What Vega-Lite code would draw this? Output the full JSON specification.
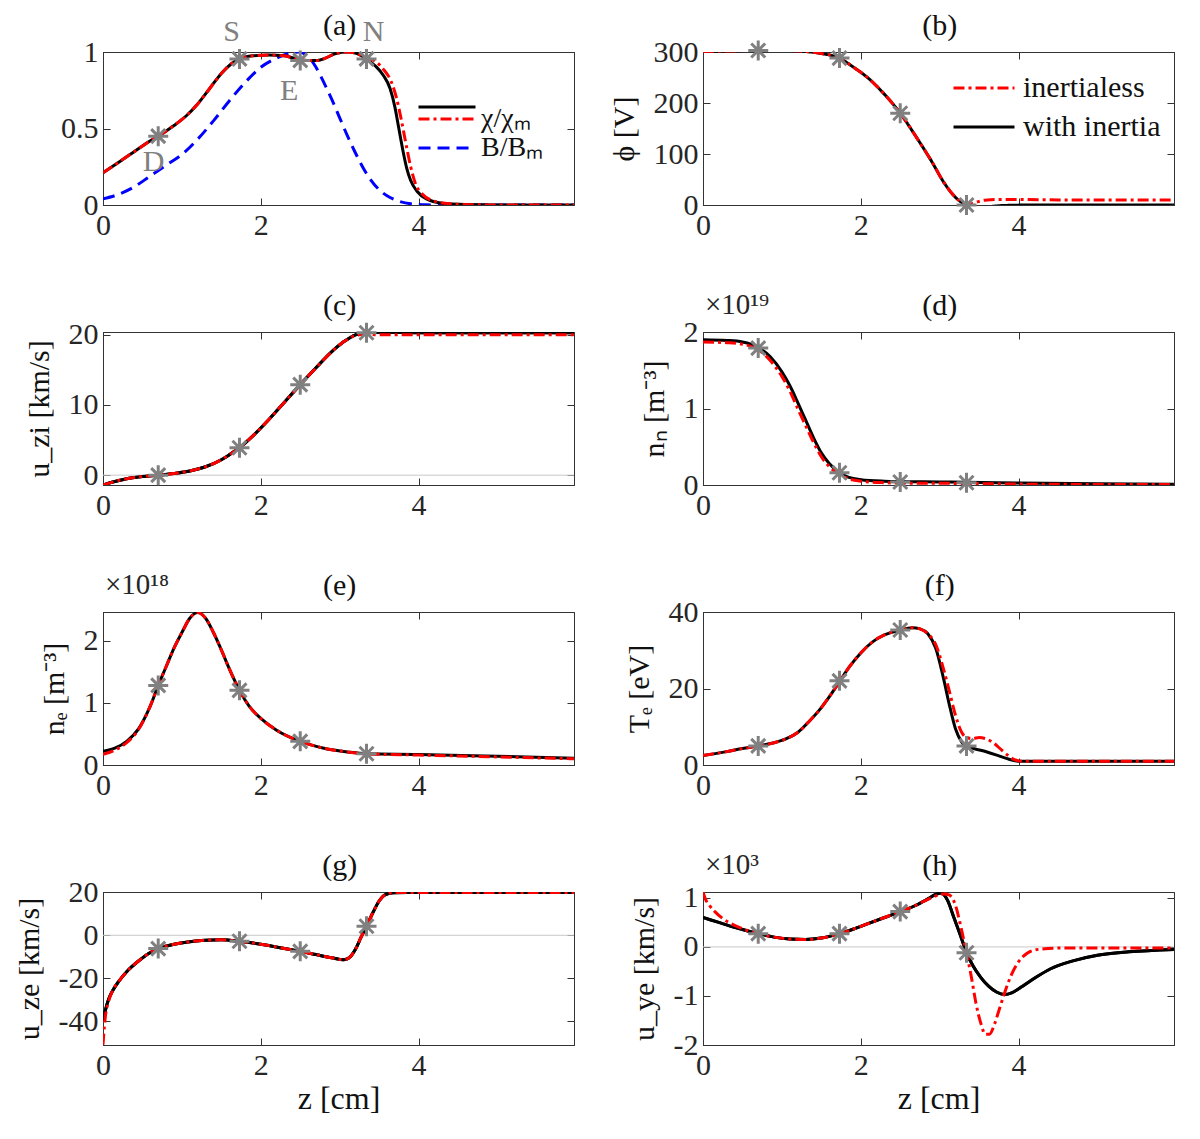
{
  "$schema": "https://vega.github.io/schema/vega-lite/v6.json",
  "background": "white",
  "padding": {"left": 13, "top": 10, "right": 5, "bottom": 5},
  "columns": 2,
  "spacing": {"row": 49, "column": 33},
  "resolve": {"scale": {"color": "independent", "strokeDash": "independent", "stroke": "independent"}},
  "datasets": {
    "a": [
      {"z":0,"v":0.21,"s":"k"},{"z":0.2,"v":0.28,"s":"k"},{"z":0.4,"v":0.35,"s":"k"},{"z":0.6,"v":0.42,"s":"k"},{"z":0.7,"v":0.45,"s":"k"},{"z":0.9,"v":0.52,"s":"k"},{"z":1.05,"v":0.58,"s":"k"},{"z":1.2,"v":0.66,"s":"k"},{"z":1.35,"v":0.76,"s":"k"},{"z":1.5,"v":0.86,"s":"k"},{"z":1.62,"v":0.92,"s":"k"},{"z":1.73,"v":0.955,"s":"k"},{"z":1.9,"v":0.975,"s":"k"},{"z":2.1,"v":0.98,"s":"k"},{"z":2.3,"v":0.975,"s":"k"},{"z":2.45,"v":0.955,"s":"k"},{"z":2.6,"v":0.945,"s":"k"},{"z":2.72,"v":0.945,"s":"k"},{"z":2.82,"v":0.96,"s":"k"},{"z":2.95,"v":0.99,"s":"k"},{"z":3.1,"v":1.0,"s":"k"},{"z":3.22,"v":0.99,"s":"k"},{"z":3.34,"v":0.955,"s":"k"},{"z":3.45,"v":0.91,"s":"k"},{"z":3.55,"v":0.85,"s":"k"},{"z":3.64,"v":0.76,"s":"k"},{"z":3.7,"v":0.64,"s":"k"},{"z":3.75,"v":0.5,"s":"k"},{"z":3.8,"v":0.36,"s":"k"},{"z":3.85,"v":0.24,"s":"k"},{"z":3.9,"v":0.16,"s":"k"},{"z":3.98,"v":0.09,"s":"k"},{"z":4.1,"v":0.04,"s":"k"},{"z":4.3,"v":0.012,"s":"k"},{"z":4.6,"v":0.003,"s":"k"},{"z":5.0,"v":0,"s":"k"},{"z":5.97,"v":0,"s":"k"},
      {"z":0,"v":0.21,"s":"r"},{"z":0.2,"v":0.28,"s":"r"},{"z":0.4,"v":0.35,"s":"r"},{"z":0.6,"v":0.42,"s":"r"},{"z":0.7,"v":0.45,"s":"r"},{"z":0.9,"v":0.52,"s":"r"},{"z":1.05,"v":0.58,"s":"r"},{"z":1.2,"v":0.66,"s":"r"},{"z":1.35,"v":0.76,"s":"r"},{"z":1.5,"v":0.86,"s":"r"},{"z":1.62,"v":0.92,"s":"r"},{"z":1.73,"v":0.955,"s":"r"},{"z":1.9,"v":0.975,"s":"r"},{"z":2.1,"v":0.98,"s":"r"},{"z":2.3,"v":0.975,"s":"r"},{"z":2.45,"v":0.955,"s":"r"},{"z":2.6,"v":0.945,"s":"r"},{"z":2.72,"v":0.945,"s":"r"},{"z":2.82,"v":0.96,"s":"r"},{"z":2.95,"v":0.99,"s":"r"},{"z":3.1,"v":1.0,"s":"r"},{"z":3.22,"v":0.99,"s":"r"},{"z":3.34,"v":0.96,"s":"r"},{"z":3.45,"v":0.94,"s":"r"},{"z":3.55,"v":0.89,"s":"r"},{"z":3.65,"v":0.81,"s":"r"},{"z":3.72,"v":0.7,"s":"r"},{"z":3.78,"v":0.56,"s":"r"},{"z":3.84,"v":0.4,"s":"r"},{"z":3.9,"v":0.25,"s":"r"},{"z":3.96,"v":0.14,"s":"r"},{"z":4.05,"v":0.07,"s":"r"},{"z":4.2,"v":0.025,"s":"r"},{"z":4.4,"v":0.008,"s":"r"},{"z":4.7,"v":0.002,"s":"r"},{"z":5.0,"v":0,"s":"r"},{"z":5.97,"v":0,"s":"r"},
      {"z":0,"v":0.04,"s":"B"},{"z":0.2,"v":0.07,"s":"B"},{"z":0.4,"v":0.12,"s":"B"},{"z":0.6,"v":0.19,"s":"B"},{"z":0.8,"v":0.26,"s":"B"},{"z":1.0,"v":0.33,"s":"B"},{"z":1.2,"v":0.43,"s":"B"},{"z":1.4,"v":0.55,"s":"B"},{"z":1.6,"v":0.68,"s":"B"},{"z":1.8,"v":0.8,"s":"B"},{"z":2.0,"v":0.9,"s":"B"},{"z":2.2,"v":0.96,"s":"B"},{"z":2.35,"v":0.99,"s":"B"},{"z":2.48,"v":1.0,"s":"B"},{"z":2.6,"v":0.97,"s":"B"},{"z":2.7,"v":0.9,"s":"B"},{"z":2.8,"v":0.8,"s":"B"},{"z":2.9,"v":0.69,"s":"B"},{"z":3.0,"v":0.57,"s":"B"},{"z":3.1,"v":0.45,"s":"B"},{"z":3.2,"v":0.34,"s":"B"},{"z":3.3,"v":0.24,"s":"B"},{"z":3.4,"v":0.16,"s":"B"},{"z":3.5,"v":0.1,"s":"B"},{"z":3.6,"v":0.06,"s":"B"},{"z":3.75,"v":0.025,"s":"B"},{"z":3.9,"v":0.008,"s":"B"},{"z":4.1,"v":0.001,"s":"B"},{"z":4.5,"v":0,"s":"B"},{"z":5.97,"v":0,"s":"B"}
    ],
    "b": [
      {"z":0,"v":301,"s":"k"},{"z":0.3,"v":302,"s":"k"},{"z":0.7,"v":303,"s":"k"},{"z":1.0,"v":303,"s":"k"},{"z":1.3,"v":301,"s":"k"},{"z":1.5,"v":297,"s":"k"},{"z":1.73,"v":288,"s":"k"},{"z":1.9,"v":271,"s":"k"},{"z":2.1,"v":248,"s":"k"},{"z":2.3,"v":217,"s":"k"},{"z":2.5,"v":180,"s":"k"},{"z":2.7,"v":134,"s":"k"},{"z":2.9,"v":85,"s":"k"},{"z":3.05,"v":45,"s":"k"},{"z":3.2,"v":15,"s":"k"},{"z":3.3,"v":3,"s":"k"},{"z":3.34,"v":0,"s":"k"},{"z":3.45,"v":-3,"s":"k"},{"z":3.6,"v":-3,"s":"k"},{"z":3.8,"v":-1,"s":"k"},{"z":4.2,"v":0,"s":"k"},{"z":5.97,"v":0,"s":"k"},
      {"z":0,"v":301,"s":"r"},{"z":0.3,"v":302,"s":"r"},{"z":0.7,"v":303,"s":"r"},{"z":1.0,"v":303,"s":"r"},{"z":1.3,"v":301,"s":"r"},{"z":1.5,"v":297,"s":"r"},{"z":1.73,"v":288,"s":"r"},{"z":1.9,"v":271,"s":"r"},{"z":2.1,"v":248,"s":"r"},{"z":2.3,"v":217,"s":"r"},{"z":2.5,"v":180,"s":"r"},{"z":2.7,"v":134,"s":"r"},{"z":2.9,"v":85,"s":"r"},{"z":3.05,"v":45,"s":"r"},{"z":3.2,"v":15,"s":"r"},{"z":3.3,"v":3,"s":"r"},{"z":3.34,"v":0,"s":"r"},{"z":3.45,"v":5,"s":"r"},{"z":3.6,"v":10,"s":"r"},{"z":3.8,"v":11,"s":"r"},{"z":4.5,"v":10,"s":"r"},{"z":5.97,"v":10,"s":"r"}
    ],
    "c": [
      {"z":0,"v":-1.4,"s":"k"},{"z":0.15,"v":-0.9,"s":"k"},{"z":0.3,"v":-0.5,"s":"k"},{"z":0.5,"v":-0.2,"s":"k"},{"z":0.7,"v":0,"s":"k"},{"z":0.9,"v":0.25,"s":"k"},{"z":1.1,"v":0.6,"s":"k"},{"z":1.3,"v":1.2,"s":"k"},{"z":1.5,"v":2.2,"s":"k"},{"z":1.6,"v":2.9,"s":"k"},{"z":1.73,"v":3.9,"s":"k"},{"z":1.9,"v":5.6,"s":"k"},{"z":2.1,"v":7.9,"s":"k"},{"z":2.3,"v":10.4,"s":"k"},{"z":2.5,"v":12.9,"s":"k"},{"z":2.7,"v":15.3,"s":"k"},{"z":2.9,"v":17.6,"s":"k"},{"z":3.05,"v":19.0,"s":"k"},{"z":3.2,"v":20.0,"s":"k"},{"z":3.34,"v":20.3,"s":"k"},{"z":3.5,"v":20.35,"s":"k"},{"z":4,"v":20.3,"s":"k"},{"z":5.97,"v":20.3,"s":"k"},
      {"z":0,"v":-1.4,"s":"r"},{"z":0.15,"v":-0.9,"s":"r"},{"z":0.3,"v":-0.5,"s":"r"},{"z":0.5,"v":-0.2,"s":"r"},{"z":0.7,"v":0,"s":"r"},{"z":0.9,"v":0.25,"s":"r"},{"z":1.1,"v":0.6,"s":"r"},{"z":1.3,"v":1.2,"s":"r"},{"z":1.5,"v":2.2,"s":"r"},{"z":1.6,"v":2.9,"s":"r"},{"z":1.73,"v":3.9,"s":"r"},{"z":1.9,"v":5.6,"s":"r"},{"z":2.1,"v":7.9,"s":"r"},{"z":2.3,"v":10.4,"s":"r"},{"z":2.5,"v":12.9,"s":"r"},{"z":2.7,"v":15.3,"s":"r"},{"z":2.9,"v":17.6,"s":"r"},{"z":3.05,"v":19.0,"s":"r"},{"z":3.2,"v":19.9,"s":"r"},{"z":3.34,"v":20.1,"s":"r"},{"z":3.5,"v":20.0,"s":"r"},{"z":5.97,"v":20.0,"s":"r"}
    ],
    "d": [
      {"z":0,"v":1.9,"s":"k"},{"z":0.3,"v":1.89,"s":"k"},{"z":0.5,"v":1.87,"s":"k"},{"z":0.7,"v":1.8,"s":"k"},{"z":0.85,"v":1.68,"s":"k"},{"z":1.0,"v":1.48,"s":"k"},{"z":1.1,"v":1.3,"s":"k"},{"z":1.2,"v":1.08,"s":"k"},{"z":1.3,"v":0.85,"s":"k"},{"z":1.4,"v":0.62,"s":"k"},{"z":1.5,"v":0.42,"s":"k"},{"z":1.6,"v":0.28,"s":"k"},{"z":1.73,"v":0.16,"s":"k"},{"z":1.85,"v":0.1,"s":"k"},{"z":2.0,"v":0.07,"s":"k"},{"z":2.3,"v":0.05,"s":"k"},{"z":2.5,"v":0.045,"s":"k"},{"z":3.0,"v":0.04,"s":"k"},{"z":3.34,"v":0.035,"s":"k"},{"z":4,"v":0.025,"s":"k"},{"z":5,"v":0.015,"s":"k"},{"z":5.97,"v":0.01,"s":"k"},
      {"z":0,"v":1.87,"s":"r"},{"z":0.3,"v":1.86,"s":"r"},{"z":0.5,"v":1.84,"s":"r"},{"z":0.7,"v":1.77,"s":"r"},{"z":0.85,"v":1.63,"s":"r"},{"z":1.0,"v":1.42,"s":"r"},{"z":1.1,"v":1.23,"s":"r"},{"z":1.2,"v":1.0,"s":"r"},{"z":1.3,"v":0.78,"s":"r"},{"z":1.4,"v":0.56,"s":"r"},{"z":1.5,"v":0.37,"s":"r"},{"z":1.6,"v":0.24,"s":"r"},{"z":1.73,"v":0.14,"s":"r"},{"z":1.85,"v":0.08,"s":"r"},{"z":2.0,"v":0.05,"s":"r"},{"z":2.3,"v":0.03,"s":"r"},{"z":2.5,"v":0.025,"s":"r"},{"z":3.34,"v":0.02,"s":"r"},{"z":4,"v":0.012,"s":"r"},{"z":5.97,"v":0.005,"s":"r"}
    ],
    "e": [
      {"z":0,"v":0.22,"s":"k"},{"z":0.15,"v":0.27,"s":"k"},{"z":0.3,"v":0.38,"s":"k"},{"z":0.45,"v":0.58,"s":"k"},{"z":0.6,"v":0.95,"s":"k"},{"z":0.7,"v":1.28,"s":"k"},{"z":0.8,"v":1.58,"s":"k"},{"z":0.9,"v":1.88,"s":"k"},{"z":1.0,"v":2.13,"s":"k"},{"z":1.1,"v":2.36,"s":"k"},{"z":1.2,"v":2.45,"s":"k"},{"z":1.3,"v":2.36,"s":"k"},{"z":1.4,"v":2.13,"s":"k"},{"z":1.5,"v":1.85,"s":"k"},{"z":1.6,"v":1.55,"s":"k"},{"z":1.73,"v":1.2,"s":"k"},{"z":1.85,"v":0.95,"s":"k"},{"z":2.0,"v":0.75,"s":"k"},{"z":2.2,"v":0.56,"s":"k"},{"z":2.5,"v":0.38,"s":"k"},{"z":2.8,"v":0.27,"s":"k"},{"z":3.1,"v":0.21,"s":"k"},{"z":3.34,"v":0.18,"s":"k"},{"z":4,"v":0.17,"s":"k"},{"z":5,"v":0.14,"s":"k"},{"z":5.97,"v":0.11,"s":"k"},
      {"z":0,"v":0.17,"s":"r"},{"z":0.15,"v":0.24,"s":"r"},{"z":0.3,"v":0.36,"s":"r"},{"z":0.45,"v":0.57,"s":"r"},{"z":0.6,"v":0.95,"s":"r"},{"z":0.7,"v":1.28,"s":"r"},{"z":0.8,"v":1.58,"s":"r"},{"z":0.9,"v":1.88,"s":"r"},{"z":1.0,"v":2.13,"s":"r"},{"z":1.1,"v":2.36,"s":"r"},{"z":1.2,"v":2.45,"s":"r"},{"z":1.3,"v":2.36,"s":"r"},{"z":1.4,"v":2.13,"s":"r"},{"z":1.5,"v":1.85,"s":"r"},{"z":1.6,"v":1.55,"s":"r"},{"z":1.73,"v":1.2,"s":"r"},{"z":1.85,"v":0.95,"s":"r"},{"z":2.0,"v":0.75,"s":"r"},{"z":2.2,"v":0.56,"s":"r"},{"z":2.5,"v":0.38,"s":"r"},{"z":2.8,"v":0.27,"s":"r"},{"z":3.1,"v":0.21,"s":"r"},{"z":3.34,"v":0.18,"s":"r"},{"z":4,"v":0.16,"s":"r"},{"z":5,"v":0.13,"s":"r"},{"z":5.97,"v":0.1,"s":"r"}
    ],
    "f": [
      {"z":0,"v":2.5,"s":"k"},{"z":0.3,"v":3.5,"s":"k"},{"z":0.5,"v":4.3,"s":"k"},{"z":0.7,"v":5.0,"s":"k"},{"z":0.9,"v":5.8,"s":"k"},{"z":1.05,"v":6.8,"s":"k"},{"z":1.2,"v":8.5,"s":"k"},{"z":1.35,"v":11.5,"s":"k"},{"z":1.5,"v":15,"s":"k"},{"z":1.6,"v":17.8,"s":"k"},{"z":1.73,"v":21.8,"s":"k"},{"z":1.85,"v":25.5,"s":"k"},{"z":2.0,"v":29.3,"s":"k"},{"z":2.15,"v":32.2,"s":"k"},{"z":2.3,"v":34,"s":"k"},{"z":2.5,"v":35.3,"s":"k"},{"z":2.65,"v":35.9,"s":"k"},{"z":2.75,"v":35.6,"s":"k"},{"z":2.85,"v":34.3,"s":"k"},{"z":2.95,"v":30.5,"s":"k"},{"z":3.05,"v":22.5,"s":"k"},{"z":3.12,"v":16,"s":"k"},{"z":3.2,"v":9.5,"s":"k"},{"z":3.28,"v":6,"s":"k"},{"z":3.34,"v":4.8,"s":"k"},{"z":3.45,"v":4.2,"s":"k"},{"z":3.6,"v":3.4,"s":"k"},{"z":3.75,"v":2.4,"s":"k"},{"z":3.88,"v":1.5,"s":"k"},{"z":4.0,"v":1.0,"s":"k"},{"z":4.5,"v":1.0,"s":"k"},{"z":5.97,"v":1.0,"s":"k"},
      {"z":0,"v":2.5,"s":"r"},{"z":0.3,"v":3.5,"s":"r"},{"z":0.5,"v":4.3,"s":"r"},{"z":0.7,"v":5.0,"s":"r"},{"z":0.9,"v":5.8,"s":"r"},{"z":1.05,"v":6.8,"s":"r"},{"z":1.2,"v":8.5,"s":"r"},{"z":1.35,"v":11.5,"s":"r"},{"z":1.5,"v":15,"s":"r"},{"z":1.6,"v":17.8,"s":"r"},{"z":1.73,"v":21.8,"s":"r"},{"z":1.85,"v":25.5,"s":"r"},{"z":2.0,"v":29.3,"s":"r"},{"z":2.15,"v":32.2,"s":"r"},{"z":2.3,"v":34,"s":"r"},{"z":2.5,"v":35.3,"s":"r"},{"z":2.65,"v":35.9,"s":"r"},{"z":2.75,"v":35.6,"s":"r"},{"z":2.85,"v":34.3,"s":"r"},{"z":2.95,"v":31.5,"s":"r"},{"z":3.05,"v":25,"s":"r"},{"z":3.12,"v":19.5,"s":"r"},{"z":3.2,"v":13,"s":"r"},{"z":3.28,"v":8.5,"s":"r"},{"z":3.34,"v":7.2,"s":"r"},{"z":3.42,"v":6.9,"s":"r"},{"z":3.5,"v":7.2,"s":"r"},{"z":3.58,"v":6.9,"s":"r"},{"z":3.68,"v":5.8,"s":"r"},{"z":3.78,"v":4.0,"s":"r"},{"z":3.88,"v":2.3,"s":"r"},{"z":3.96,"v":1.3,"s":"r"},{"z":4.05,"v":1.0,"s":"r"},{"z":5.97,"v":1.0,"s":"r"}
    ],
    "g": [
      {"z":0,"v":-40,"s":"k"},{"z":0.03,"v":-35,"s":"k"},{"z":0.07,"v":-30,"s":"k"},{"z":0.12,"v":-26,"s":"k"},{"z":0.2,"v":-21.5,"s":"k"},{"z":0.3,"v":-17,"s":"k"},{"z":0.45,"v":-12,"s":"k"},{"z":0.6,"v":-8,"s":"k"},{"z":0.7,"v":-6.2,"s":"k"},{"z":0.9,"v":-4.2,"s":"k"},{"z":1.1,"v":-3.0,"s":"k"},{"z":1.3,"v":-2.3,"s":"k"},{"z":1.5,"v":-2.1,"s":"k"},{"z":1.73,"v":-2.8,"s":"k"},{"z":1.9,"v":-3.6,"s":"k"},{"z":2.1,"v":-4.8,"s":"k"},{"z":2.3,"v":-6.2,"s":"k"},{"z":2.5,"v":-7.5,"s":"k"},{"z":2.7,"v":-9,"s":"k"},{"z":2.9,"v":-10.5,"s":"k"},{"z":3.05,"v":-11.4,"s":"k"},{"z":3.12,"v":-10.5,"s":"k"},{"z":3.2,"v":-6.5,"s":"k"},{"z":3.27,"v":-1,"s":"k"},{"z":3.34,"v":4.2,"s":"k"},{"z":3.42,"v":10.5,"s":"k"},{"z":3.5,"v":16,"s":"k"},{"z":3.58,"v":19,"s":"k"},{"z":3.68,"v":19.9,"s":"k"},{"z":4,"v":20,"s":"k"},{"z":5.97,"v":20,"s":"k"},
      {"z":0,"v":-51,"s":"r"},{"z":0.01,"v":-46,"s":"r"},{"z":0.03,"v":-38,"s":"r"},{"z":0.07,"v":-31,"s":"r"},{"z":0.12,"v":-26,"s":"r"},{"z":0.2,"v":-21.5,"s":"r"},{"z":0.3,"v":-17,"s":"r"},{"z":0.45,"v":-12,"s":"r"},{"z":0.6,"v":-8,"s":"r"},{"z":0.7,"v":-6.2,"s":"r"},{"z":0.9,"v":-4.2,"s":"r"},{"z":1.1,"v":-3.0,"s":"r"},{"z":1.3,"v":-2.3,"s":"r"},{"z":1.5,"v":-2.1,"s":"r"},{"z":1.73,"v":-2.8,"s":"r"},{"z":1.9,"v":-3.6,"s":"r"},{"z":2.1,"v":-4.8,"s":"r"},{"z":2.3,"v":-6.2,"s":"r"},{"z":2.5,"v":-7.5,"s":"r"},{"z":2.7,"v":-9,"s":"r"},{"z":2.9,"v":-10.5,"s":"r"},{"z":3.05,"v":-11.4,"s":"r"},{"z":3.12,"v":-10.5,"s":"r"},{"z":3.2,"v":-6.5,"s":"r"},{"z":3.27,"v":-1,"s":"r"},{"z":3.34,"v":4.2,"s":"r"},{"z":3.42,"v":10.5,"s":"r"},{"z":3.5,"v":16,"s":"r"},{"z":3.58,"v":19,"s":"r"},{"z":3.68,"v":19.9,"s":"r"},{"z":4,"v":20,"s":"r"},{"z":5.97,"v":20,"s":"r"}
    ],
    "h": [
      {"z":0,"v":0.6,"s":"k"},{"z":0.2,"v":0.5,"s":"k"},{"z":0.4,"v":0.4,"s":"k"},{"z":0.7,"v":0.27,"s":"k"},{"z":0.9,"v":0.2,"s":"k"},{"z":1.1,"v":0.16,"s":"k"},{"z":1.3,"v":0.15,"s":"k"},{"z":1.5,"v":0.18,"s":"k"},{"z":1.73,"v":0.27,"s":"k"},{"z":1.9,"v":0.36,"s":"k"},{"z":2.1,"v":0.48,"s":"k"},{"z":2.3,"v":0.6,"s":"k"},{"z":2.5,"v":0.72,"s":"k"},{"z":2.7,"v":0.85,"s":"k"},{"z":2.85,"v":0.98,"s":"k"},{"z":2.95,"v":1.07,"s":"k"},{"z":3.02,"v":1.1,"s":"k"},{"z":3.1,"v":0.95,"s":"k"},{"z":3.18,"v":0.6,"s":"k"},{"z":3.26,"v":0.25,"s":"k"},{"z":3.34,"v":-0.12,"s":"k"},{"z":3.42,"v":-0.38,"s":"k"},{"z":3.52,"v":-0.62,"s":"k"},{"z":3.62,"v":-0.8,"s":"k"},{"z":3.72,"v":-0.92,"s":"k"},{"z":3.82,"v":-0.97,"s":"k"},{"z":3.92,"v":-0.93,"s":"k"},{"z":4.05,"v":-0.8,"s":"k"},{"z":4.2,"v":-0.64,"s":"k"},{"z":4.4,"v":-0.45,"s":"k"},{"z":4.7,"v":-0.28,"s":"k"},{"z":5.0,"v":-0.17,"s":"k"},{"z":5.4,"v":-0.1,"s":"k"},{"z":5.97,"v":-0.05,"s":"k"},
      {"z":0,"v":1.12,"s":"r"},{"z":0.03,"v":0.98,"s":"r"},{"z":0.08,"v":0.85,"s":"r"},{"z":0.15,"v":0.72,"s":"r"},{"z":0.25,"v":0.58,"s":"r"},{"z":0.4,"v":0.44,"s":"r"},{"z":0.55,"v":0.34,"s":"r"},{"z":0.7,"v":0.27,"s":"r"},{"z":0.9,"v":0.2,"s":"r"},{"z":1.1,"v":0.16,"s":"r"},{"z":1.3,"v":0.15,"s":"r"},{"z":1.5,"v":0.18,"s":"r"},{"z":1.73,"v":0.27,"s":"r"},{"z":1.9,"v":0.36,"s":"r"},{"z":2.1,"v":0.48,"s":"r"},{"z":2.3,"v":0.6,"s":"r"},{"z":2.5,"v":0.72,"s":"r"},{"z":2.7,"v":0.85,"s":"r"},{"z":2.85,"v":0.97,"s":"r"},{"z":2.95,"v":1.04,"s":"r"},{"z":3.05,"v":1.08,"s":"r"},{"z":3.12,"v":1.06,"s":"r"},{"z":3.2,"v":0.85,"s":"r"},{"z":3.27,"v":0.4,"s":"r"},{"z":3.34,"v":-0.12,"s":"r"},{"z":3.4,"v":-0.6,"s":"r"},{"z":3.46,"v":-1.15,"s":"r"},{"z":3.52,"v":-1.55,"s":"r"},{"z":3.58,"v":-1.78,"s":"r"},{"z":3.63,"v":-1.78,"s":"r"},{"z":3.7,"v":-1.55,"s":"r"},{"z":3.76,"v":-1.25,"s":"r"},{"z":3.82,"v":-0.95,"s":"r"},{"z":3.9,"v":-0.6,"s":"r"},{"z":4.0,"v":-0.3,"s":"r"},{"z":4.1,"v":-0.14,"s":"r"},{"z":4.25,"v":-0.05,"s":"r"},{"z":4.6,"v":-0.02,"s":"r"},{"z":5.97,"v":-0.02,"s":"r"}
    ],
    "pts": [
      {"p":"a","z":0.7,"v":0.45},{"p":"a","z":1.73,"v":0.955},{"p":"a","z":2.5,"v":0.945},{"p":"a","z":3.34,"v":0.955},
      {"p":"b","z":0.7,"v":303},{"p":"b","z":1.73,"v":288},{"p":"b","z":2.5,"v":180},{"p":"b","z":3.34,"v":0},
      {"p":"c","z":0.7,"v":0},{"p":"c","z":1.73,"v":3.9},{"p":"c","z":2.5,"v":12.9},{"p":"c","z":3.34,"v":20.3},
      {"p":"d","z":0.7,"v":1.79},{"p":"d","z":1.73,"v":0.16},{"p":"d","z":2.5,"v":0.04},{"p":"d","z":3.34,"v":0.03},
      {"p":"e","z":0.7,"v":1.28},{"p":"e","z":1.73,"v":1.2},{"p":"e","z":2.5,"v":0.38},{"p":"e","z":3.34,"v":0.18},
      {"p":"f","z":0.7,"v":5},{"p":"f","z":1.73,"v":22},{"p":"f","z":2.5,"v":35.3},{"p":"f","z":3.34,"v":5},
      {"p":"g","z":0.7,"v":-6.2},{"p":"g","z":1.73,"v":-2.8},{"p":"g","z":2.5,"v":-7.5},{"p":"g","z":3.34,"v":4.2},
      {"p":"h","z":0.7,"v":0.27},{"p":"h","z":1.73,"v":0.27},{"p":"h","z":2.5,"v":0.72},{"p":"h","z":3.34,"v":-0.12}
    ],
    "lbl": [
      {"t":"D","z":0.64,"v":0.28},{"t":"S","z":1.63,"v":1.13},{"t":"E","z":2.36,"v":0.745},{"t":"N","z":3.43,"v":1.13}
    ]
  },
  "concat": [
    {
      "width": 471, "height": 153,
      "resolve": {"axis": {"x": "independent", "y": "independent"}},
      "layer": [
        {"data": {"name": "a"}, "transform": [{"filter": "datum.s=='B'"}],
         "mark": {"type": "line", "strokeWidth": 3, "interpolate": "monotone", "clip": true},
         "encoding": {
           "x": {"field":"z","type":"quantitative","scale":{"domain":[0,5.97],"nice":false,"zero":false},"axis":{"values":[0,2,4],"title":null,"labelExpr":"toString(datum.value)"}},
           "y": {"field":"v","type":"quantitative","scale":{"domain":[0,1],"nice":false,"zero":false},"axis":{"values":[0,0.5,1],"title":null,"labelExpr":"toString(datum.value)"}},
           "color": {"field":"s","type":"nominal","scale":{"domain":["r","B"],"range":["#ff0000","#0000ff"]},
             "legend": {"orient":"none","legendX":314,"legendY":57,"title":null,"labelExpr":"datum.value=='r' ? 'χ/χₘ' : 'B/Bₘ'","symbolType":"stroke","symbolSize":3249,"symbolStrokeWidth":3,"clipHeight":20,"rowPadding":1,"labelOffset":4,"labelFontSize":28}},
           "strokeDash": {"field":"s","type":"nominal","scale":{"domain":["r","B"],"range":[[11,4,3,4],[12,7]]},
             "legend": {"orient":"none","legendX":314,"legendY":57,"title":null,"labelExpr":"datum.value=='r' ? 'χ/χₘ' : 'B/Bₘ'","symbolType":"stroke","symbolSize":3249,"symbolStrokeWidth":3,"clipHeight":20,"rowPadding":1,"labelOffset":4,"labelFontSize":28}}
         }},
        {"data": {"name": "a"}, "transform": [{"filter": "datum.s=='k'"}],
         "mark": {"type": "line", "strokeWidth": 3, "interpolate": "monotone", "clip": true},
         "encoding": {"x": {"field":"z","type":"quantitative","axis":null}, "y": {"field":"v","type":"quantitative","axis":null},
           "stroke": {"field":"s","type":"nominal","scale":{"domain":["k"],"range":["#000000"]},
             "legend": {"orient":"none","legendX":314,"legendY":45,"title":null,"labelExpr":"''","symbolType":"stroke","symbolSize":3249,"symbolStrokeWidth":3,"clipHeight":20}}}},
        {"data": {"name": "a"}, "transform": [{"filter": "datum.s=='r'"}],
         "mark": {"type": "line", "strokeWidth": 3, "interpolate": "monotone", "clip": true},
         "encoding": {"x": {"field":"z","type":"quantitative","axis":null}, "y": {"field":"v","type":"quantitative","axis":null}, "color": {"field":"s","type":"nominal"}, "strokeDash": {"field":"s","type":"nominal"}}},
        {"data": {"name": "pts"}, "transform": [{"filter": "datum.p=='a'"}],
         "mark": {"type":"point","shape":"M-1,0L1,0M0,-1L0,1M-0.7,-0.7L0.7,0.7M-0.7,0.7L0.7,-0.7","size":400,"color":"#808080","strokeWidth":3,"filled":false,"opacity":1},
         "encoding": {"x": {"field":"z","type":"quantitative","axis":null}, "y": {"field":"v","type":"quantitative","axis":null}}},
        {"data": {"name": "lbl"},
         "mark": {"type":"text","fontSize":30,"color":"#808080","baseline":"middle"},
         "encoding": {"x": {"field":"z","type":"quantitative","axis":null}, "y": {"field":"v","type":"quantitative","axis":null}, "text": {"field":"t"}}},
        {"data": {"values": [{"t": "(a)"}]},
         "mark": {"type":"text","fontSize":30,"baseline":"middle","dy":-26,"color":"#111111"},
         "encoding": {"x": {"datum":3.0,"type":"quantitative","axis":null}, "y": {"datum":1,"type":"quantitative","axis":null}, "text": {"field":"t"}}},
        {"data": {"values": [{}]},
         "mark": {"type":"point","opacity":0},
         "encoding": {"x": {"datum":0,"type":"quantitative","axis":{"orient":"top","values":[0,2,4],"labels":false,"title":null}}, "y": {"datum":0,"type":"quantitative","axis":{"orient":"right","values":[0,0.5,1],"labels":false,"title":null}}}}
      ]
    },
    {
      "width": 471, "height": 153,
      "resolve": {"axis": {"x": "independent", "y": "independent"}},
      "layer": [
        {"data": {"name": "b"}, "transform": [{"filter": "datum.s=='k'"}],
         "mark": {"type": "line", "strokeWidth": 3, "interpolate": "monotone", "clip": true},
         "encoding": {
           "x": {"field":"z","type":"quantitative","scale":{"domain":[0,5.97],"nice":false,"zero":false},"axis":{"values":[0,2,4],"title":null,"labelExpr":"toString(datum.value)"}},
           "y": {"field":"v","type":"quantitative","scale":{"domain":[0,300],"nice":false,"zero":false},"axis":{"values":[0,100,200,300],"title":"ϕ [V]","labelExpr":"toString(datum.value)"}},
           "color": {"field":"s","type":"nominal","scale":{"domain":["r","k"],"range":["#ff0000","#000000"]},
             "legend": {"orient":"none","legendX":249,"legendY":21,"title":null,"labelExpr":"datum.value=='r' ? 'inertialess' : 'with inertia'","symbolType":"stroke","symbolSize":3721,"symbolStrokeWidth":3,"clipHeight":30,"rowPadding":9,"labelOffset":7,"labelFontSize":30}},
           "strokeDash": {"field":"s","type":"nominal","scale":{"domain":["r","k"],"range":[[11,4,3,4],[1,0]]},
             "legend": {"orient":"none","legendX":249,"legendY":21,"title":null,"labelExpr":"datum.value=='r' ? 'inertialess' : 'with inertia'","symbolType":"stroke","symbolSize":3721,"symbolStrokeWidth":3,"clipHeight":30,"rowPadding":9,"labelOffset":7,"labelFontSize":30}}
         }},
        {"data": {"name": "b"}, "transform": [{"filter": "datum.s=='r'"}],
         "mark": {"type": "line", "strokeWidth": 3, "interpolate": "monotone", "clip": true},
         "encoding": {"x": {"field":"z","type":"quantitative","axis":null}, "y": {"field":"v","type":"quantitative","axis":null}, "color": {"field":"s","type":"nominal"}, "strokeDash": {"field":"s","type":"nominal"}}},
        {"data": {"name": "pts"}, "transform": [{"filter": "datum.p=='b'"}],
         "mark": {"type":"point","shape":"M-1,0L1,0M0,-1L0,1M-0.7,-0.7L0.7,0.7M-0.7,0.7L0.7,-0.7","size":400,"color":"#808080","strokeWidth":3,"filled":false,"opacity":1},
         "encoding": {"x": {"field":"z","type":"quantitative","axis":null}, "y": {"field":"v","type":"quantitative","axis":null}}},
        {"data": {"values": [{"t": "(b)"}]},
         "mark": {"type":"text","fontSize":30,"baseline":"middle","dy":-26,"color":"#111111"},
         "encoding": {"x": {"datum":3.0,"type":"quantitative","axis":null}, "y": {"datum":300,"type":"quantitative","axis":null}, "text": {"field":"t"}}},
        {"data": {"values": [{}]},
         "mark": {"type":"point","opacity":0},
         "encoding": {"x": {"datum":0,"type":"quantitative","axis":{"orient":"top","values":[0,2,4],"labels":false,"title":null}}, "y": {"datum":0,"type":"quantitative","axis":{"orient":"right","values":[0,100,200,300],"labels":false,"title":null}}}}
      ]
    },
    {
      "width": 471, "height": 153,
      "resolve": {"axis": {"x": "independent", "y": "independent"}},
      "layer": [
        {"data": {"name": "c"}, "transform": [{"filter": "datum.s=='k'"}],
         "mark": {"type": "line", "strokeWidth": 3, "interpolate": "monotone", "clip": true, "color": "#000000"},
         "encoding": {
           "x": {"field":"z","type":"quantitative","scale":{"domain":[0,5.97],"nice":false,"zero":false},"axis":{"values":[0,2,4],"title":null,"labelExpr":"toString(datum.value)"}},
           "y": {"field":"v","type":"quantitative","scale":{"domain":[-1.4,20.4],"nice":false,"zero":false},"axis":{"values":[0,10,20],"title":"u_zi [km/s]","labelExpr":"toString(datum.value)"}}
         }},
        {"data": {"values": [{}]},
         "mark": {"type":"rule","color":"#c8c8c8","strokeWidth":1},
         "encoding": {"y": {"datum":0,"type":"quantitative","axis":null}}},
        {"data": {"name": "c"}, "transform": [{"filter": "datum.s=='k'"}],
         "mark": {"type": "line", "strokeWidth": 3, "interpolate": "monotone", "clip": true, "color": "#000000"},
         "encoding": {"x": {"field":"z","type":"quantitative","axis":null}, "y": {"field":"v","type":"quantitative","axis":null}}},
        {"data": {"name": "c"}, "transform": [{"filter": "datum.s=='r'"}],
         "mark": {"type": "line", "strokeWidth": 3, "interpolate": "monotone", "clip": true, "color": "#ff0000", "strokeDash": [11,4,3,4]},
         "encoding": {"x": {"field":"z","type":"quantitative","axis":null}, "y": {"field":"v","type":"quantitative","axis":null}}},
        {"data": {"name": "pts"}, "transform": [{"filter": "datum.p=='c'"}],
         "mark": {"type":"point","shape":"M-1,0L1,0M0,-1L0,1M-0.7,-0.7L0.7,0.7M-0.7,0.7L0.7,-0.7","size":400,"color":"#808080","strokeWidth":3,"filled":false,"opacity":1},
         "encoding": {"x": {"field":"z","type":"quantitative","axis":null}, "y": {"field":"v","type":"quantitative","axis":null}}},
        {"data": {"values": [{"t": "(c)"}]},
         "mark": {"type":"text","fontSize":30,"baseline":"middle","dy":-26,"color":"#111111"},
         "encoding": {"x": {"datum":3.0,"type":"quantitative","axis":null}, "y": {"datum":20.4,"type":"quantitative","axis":null}, "text": {"field":"t"}}},
        {"data": {"values": [{}]},
         "mark": {"type":"point","opacity":0},
         "encoding": {"x": {"datum":0,"type":"quantitative","axis":{"orient":"top","values":[0,2,4],"labels":false,"title":null}}, "y": {"datum":0,"type":"quantitative","axis":{"orient":"right","values":[0,10,20],"labels":false,"title":null}}}}
      ]
    },
    {
      "width": 471, "height": 153,
      "resolve": {"axis": {"x": "independent", "y": "independent"}},
      "layer": [
        {"data": {"name": "d"}, "transform": [{"filter": "datum.s=='k'"}],
         "mark": {"type": "line", "strokeWidth": 3, "interpolate": "monotone", "clip": true, "color": "#000000"},
         "encoding": {
           "x": {"field":"z","type":"quantitative","scale":{"domain":[0,5.97],"nice":false,"zero":false},"axis":{"values":[0,2,4],"title":null,"labelExpr":"toString(datum.value)"}},
           "y": {"field":"v","type":"quantitative","scale":{"domain":[0,2],"nice":false,"zero":false},"axis":{"values":[0,1,2],"title":"nₙ [m⁻³]","labelExpr":"toString(datum.value)"}}
         }},
        {"data": {"name": "d"}, "transform": [{"filter": "datum.s=='r'"}],
         "mark": {"type": "line", "strokeWidth": 3, "interpolate": "monotone", "clip": true, "color": "#ff0000", "strokeDash": [11,4,3,4]},
         "encoding": {"x": {"field":"z","type":"quantitative","axis":null}, "y": {"field":"v","type":"quantitative","axis":null}}},
        {"data": {"name": "pts"}, "transform": [{"filter": "datum.p=='d'"}],
         "mark": {"type":"point","shape":"M-1,0L1,0M0,-1L0,1M-0.7,-0.7L0.7,0.7M-0.7,0.7L0.7,-0.7","size":400,"color":"#808080","strokeWidth":3,"filled":false,"opacity":1},
         "encoding": {"x": {"field":"z","type":"quantitative","axis":null}, "y": {"field":"v","type":"quantitative","axis":null}}},
        {"data": {"values": [{"t": "×10¹⁹"}]},
         "mark": {"type":"text","fontSize":29,"align":"left","baseline":"middle","dy":-27,"dx":2,"color":"#262626"},
         "encoding": {"x": {"datum":0,"type":"quantitative","axis":null}, "y": {"datum":2,"type":"quantitative","axis":null}, "text": {"field":"t"}}},
        {"data": {"values": [{"t": "(d)"}]},
         "mark": {"type":"text","fontSize":30,"baseline":"middle","dy":-26,"color":"#111111"},
         "encoding": {"x": {"datum":3.0,"type":"quantitative","axis":null}, "y": {"datum":2,"type":"quantitative","axis":null}, "text": {"field":"t"}}},
        {"data": {"values": [{}]},
         "mark": {"type":"point","opacity":0},
         "encoding": {"x": {"datum":0,"type":"quantitative","axis":{"orient":"top","values":[0,2,4],"labels":false,"title":null}}, "y": {"datum":0,"type":"quantitative","axis":{"orient":"right","values":[0,1,2],"labels":false,"title":null}}}}
      ]
    },
    {
      "width": 471, "height": 153,
      "resolve": {"axis": {"x": "independent", "y": "independent"}},
      "layer": [
        {"data": {"name": "e"}, "transform": [{"filter": "datum.s=='k'"}],
         "mark": {"type": "line", "strokeWidth": 3, "interpolate": "monotone", "clip": true, "color": "#000000"},
         "encoding": {
           "x": {"field":"z","type":"quantitative","scale":{"domain":[0,5.97],"nice":false,"zero":false},"axis":{"values":[0,2,4],"title":null,"labelExpr":"toString(datum.value)"}},
           "y": {"field":"v","type":"quantitative","scale":{"domain":[0,2.46],"nice":false,"zero":false},"axis":{"values":[0,1,2],"title":"nₑ [m⁻³]","labelExpr":"toString(datum.value)"}}
         }},
        {"data": {"name": "e"}, "transform": [{"filter": "datum.s=='r'"}],
         "mark": {"type": "line", "strokeWidth": 3, "interpolate": "monotone", "clip": true, "color": "#ff0000", "strokeDash": [11,4,3,4]},
         "encoding": {"x": {"field":"z","type":"quantitative","axis":null}, "y": {"field":"v","type":"quantitative","axis":null}}},
        {"data": {"name": "pts"}, "transform": [{"filter": "datum.p=='e'"}],
         "mark": {"type":"point","shape":"M-1,0L1,0M0,-1L0,1M-0.7,-0.7L0.7,0.7M-0.7,0.7L0.7,-0.7","size":400,"color":"#808080","strokeWidth":3,"filled":false,"opacity":1},
         "encoding": {"x": {"field":"z","type":"quantitative","axis":null}, "y": {"field":"v","type":"quantitative","axis":null}}},
        {"data": {"values": [{"t": "×10¹⁸"}]},
         "mark": {"type":"text","fontSize":29,"align":"left","baseline":"middle","dy":-27,"dx":2,"color":"#262626"},
         "encoding": {"x": {"datum":0,"type":"quantitative","axis":null}, "y": {"datum":2.46,"type":"quantitative","axis":null}, "text": {"field":"t"}}},
        {"data": {"values": [{"t": "(e)"}]},
         "mark": {"type":"text","fontSize":30,"baseline":"middle","dy":-26,"color":"#111111"},
         "encoding": {"x": {"datum":3.0,"type":"quantitative","axis":null}, "y": {"datum":2.46,"type":"quantitative","axis":null}, "text": {"field":"t"}}},
        {"data": {"values": [{}]},
         "mark": {"type":"point","opacity":0},
         "encoding": {"x": {"datum":0,"type":"quantitative","axis":{"orient":"top","values":[0,2,4],"labels":false,"title":null}}, "y": {"datum":0,"type":"quantitative","axis":{"orient":"right","values":[0,1,2],"labels":false,"title":null}}}}
      ]
    },
    {
      "width": 471, "height": 153,
      "resolve": {"axis": {"x": "independent", "y": "independent"}},
      "layer": [
        {"data": {"name": "f"}, "transform": [{"filter": "datum.s=='k'"}],
         "mark": {"type": "line", "strokeWidth": 3, "interpolate": "monotone", "clip": true, "color": "#000000"},
         "encoding": {
           "x": {"field":"z","type":"quantitative","scale":{"domain":[0,5.97],"nice":false,"zero":false},"axis":{"values":[0,2,4],"title":null,"labelExpr":"toString(datum.value)"}},
           "y": {"field":"v","type":"quantitative","scale":{"domain":[0,40],"nice":false,"zero":false},"axis":{"values":[0,20,40],"title":"Tₑ [eV]","labelExpr":"toString(datum.value)"}}
         }},
        {"data": {"name": "f"}, "transform": [{"filter": "datum.s=='r'"}],
         "mark": {"type": "line", "strokeWidth": 3, "interpolate": "monotone", "clip": true, "color": "#ff0000", "strokeDash": [11,4,3,4]},
         "encoding": {"x": {"field":"z","type":"quantitative","axis":null}, "y": {"field":"v","type":"quantitative","axis":null}}},
        {"data": {"name": "pts"}, "transform": [{"filter": "datum.p=='f'"}],
         "mark": {"type":"point","shape":"M-1,0L1,0M0,-1L0,1M-0.7,-0.7L0.7,0.7M-0.7,0.7L0.7,-0.7","size":400,"color":"#808080","strokeWidth":3,"filled":false,"opacity":1},
         "encoding": {"x": {"field":"z","type":"quantitative","axis":null}, "y": {"field":"v","type":"quantitative","axis":null}}},
        {"data": {"values": [{"t": "(f)"}]},
         "mark": {"type":"text","fontSize":30,"baseline":"middle","dy":-26,"color":"#111111"},
         "encoding": {"x": {"datum":3.0,"type":"quantitative","axis":null}, "y": {"datum":40,"type":"quantitative","axis":null}, "text": {"field":"t"}}},
        {"data": {"values": [{}]},
         "mark": {"type":"point","opacity":0},
         "encoding": {"x": {"datum":0,"type":"quantitative","axis":{"orient":"top","values":[0,2,4],"labels":false,"title":null}}, "y": {"datum":0,"type":"quantitative","axis":{"orient":"right","values":[0,20,40],"labels":false,"title":null}}}}
      ]
    },
    {
      "width": 471, "height": 153,
      "resolve": {"axis": {"x": "independent", "y": "independent"}},
      "layer": [
        {"data": {"name": "g"}, "transform": [{"filter": "datum.s=='k'"}],
         "mark": {"type": "line", "strokeWidth": 3, "interpolate": "monotone", "clip": true, "color": "#000000"},
         "encoding": {
           "x": {"field":"z","type":"quantitative","scale":{"domain":[0,5.97],"nice":false,"zero":false},"axis":{"values":[0,2,4],"title":"z [cm]","titleFontSize":32,"titlePadding":3,"labelExpr":"toString(datum.value)"}},
           "y": {"field":"v","type":"quantitative","scale":{"domain":[-51.2,20.2],"nice":false,"zero":false},"axis":{"values":[-40,-20,0,20],"title":"u_ze [km/s]","labelExpr":"toString(datum.value)"}}
         }},
        {"data": {"values": [{}]},
         "mark": {"type":"rule","color":"#c8c8c8","strokeWidth":1},
         "encoding": {"y": {"datum":0,"type":"quantitative","axis":null}}},
        {"data": {"name": "g"}, "transform": [{"filter": "datum.s=='k'"}],
         "mark": {"type": "line", "strokeWidth": 3, "interpolate": "monotone", "clip": true, "color": "#000000"},
         "encoding": {"x": {"field":"z","type":"quantitative","axis":null}, "y": {"field":"v","type":"quantitative","axis":null}}},
        {"data": {"name": "g"}, "transform": [{"filter": "datum.s=='r'"}],
         "mark": {"type": "line", "strokeWidth": 3, "interpolate": "monotone", "clip": true, "color": "#ff0000", "strokeDash": [11,4,3,4]},
         "encoding": {"x": {"field":"z","type":"quantitative","axis":null}, "y": {"field":"v","type":"quantitative","axis":null}}},
        {"data": {"name": "pts"}, "transform": [{"filter": "datum.p=='g'"}],
         "mark": {"type":"point","shape":"M-1,0L1,0M0,-1L0,1M-0.7,-0.7L0.7,0.7M-0.7,0.7L0.7,-0.7","size":400,"color":"#808080","strokeWidth":3,"filled":false,"opacity":1},
         "encoding": {"x": {"field":"z","type":"quantitative","axis":null}, "y": {"field":"v","type":"quantitative","axis":null}}},
        {"data": {"values": [{"t": "(g)"}]},
         "mark": {"type":"text","fontSize":30,"baseline":"middle","dy":-26,"color":"#111111"},
         "encoding": {"x": {"datum":3.0,"type":"quantitative","axis":null}, "y": {"datum":20.2,"type":"quantitative","axis":null}, "text": {"field":"t"}}},
        {"data": {"values": [{}]},
         "mark": {"type":"point","opacity":0},
         "encoding": {"x": {"datum":0,"type":"quantitative","axis":{"orient":"top","values":[0,2,4],"labels":false,"title":null}}, "y": {"datum":0,"type":"quantitative","axis":{"orient":"right","values":[-40,-20,0,20],"labels":false,"title":null}}}}
      ]
    },
    {
      "width": 471, "height": 153,
      "resolve": {"axis": {"x": "independent", "y": "independent"}},
      "layer": [
        {"data": {"name": "h"}, "transform": [{"filter": "datum.s=='k'"}],
         "mark": {"type": "line", "strokeWidth": 3, "interpolate": "monotone", "clip": true, "color": "#000000"},
         "encoding": {
           "x": {"field":"z","type":"quantitative","scale":{"domain":[0,5.97],"nice":false,"zero":false},"axis":{"values":[0,2,4],"title":"z [cm]","titleFontSize":32,"titlePadding":3,"labelExpr":"toString(datum.value)"}},
           "y": {"field":"v","type":"quantitative","scale":{"domain":[-2,1.12],"nice":false,"zero":false},"axis":{"values":[-2,-1,0,1],"title":"u_ye [km/s]","labelExpr":"toString(datum.value)"}}
         }},
        {"data": {"values": [{}]},
         "mark": {"type":"rule","color":"#c8c8c8","strokeWidth":1},
         "encoding": {"y": {"datum":0,"type":"quantitative","axis":null}}},
        {"data": {"name": "h"}, "transform": [{"filter": "datum.s=='k'"}],
         "mark": {"type": "line", "strokeWidth": 3, "interpolate": "monotone", "clip": true, "color": "#000000"},
         "encoding": {"x": {"field":"z","type":"quantitative","axis":null}, "y": {"field":"v","type":"quantitative","axis":null}}},
        {"data": {"name": "h"}, "transform": [{"filter": "datum.s=='r'"}],
         "mark": {"type": "line", "strokeWidth": 3, "interpolate": "monotone", "clip": true, "color": "#ff0000", "strokeDash": [11,4,3,4]},
         "encoding": {"x": {"field":"z","type":"quantitative","axis":null}, "y": {"field":"v","type":"quantitative","axis":null}}},
        {"data": {"name": "pts"}, "transform": [{"filter": "datum.p=='h'"}],
         "mark": {"type":"point","shape":"M-1,0L1,0M0,-1L0,1M-0.7,-0.7L0.7,0.7M-0.7,0.7L0.7,-0.7","size":400,"color":"#808080","strokeWidth":3,"filled":false,"opacity":1},
         "encoding": {"x": {"field":"z","type":"quantitative","axis":null}, "y": {"field":"v","type":"quantitative","axis":null}}},
        {"data": {"values": [{"t": "×10³"}]},
         "mark": {"type":"text","fontSize":29,"align":"left","baseline":"middle","dy":-27,"dx":2,"color":"#262626"},
         "encoding": {"x": {"datum":0,"type":"quantitative","axis":null}, "y": {"datum":1.12,"type":"quantitative","axis":null}, "text": {"field":"t"}}},
        {"data": {"values": [{"t": "(h)"}]},
         "mark": {"type":"text","fontSize":30,"baseline":"middle","dy":-26,"color":"#111111"},
         "encoding": {"x": {"datum":3.0,"type":"quantitative","axis":null}, "y": {"datum":1.12,"type":"quantitative","axis":null}, "text": {"field":"t"}}},
        {"data": {"values": [{}]},
         "mark": {"type":"point","opacity":0},
         "encoding": {"x": {"datum":0,"type":"quantitative","axis":{"orient":"top","values":[0,2,4],"labels":false,"title":null}}, "y": {"datum":0,"type":"quantitative","axis":{"orient":"right","values":[-2,-1,0,1],"labels":false,"title":null}}}}
      ]
    }
  ],
  "config": {
    "font": "Liberation Serif",
    "view": {"stroke": "#333333", "strokeWidth": 1},
    "axis": {"labelFont": "Liberation Serif", "labelFontSize": 30, "labelColor": "#262626", "titleFont": "Liberation Serif", "titleFontSize": 30, "titleFontWeight": "normal", "titleColor": "#111111", "grid": false, "domainColor": "#333333", "tickColor": "#333333", "tickSize": -7, "tickWidth": 1, "labelPadding": 12, "titlePadding": 14, "labelFlush": false, "labelOverlap": false},
    "legend": {"labelFont": "Liberation Serif", "labelFontSize": 30, "labelColor": "#111111", "symbolStrokeWidth": 3},
    "text": {"font": "Liberation Serif"}
  }
}
